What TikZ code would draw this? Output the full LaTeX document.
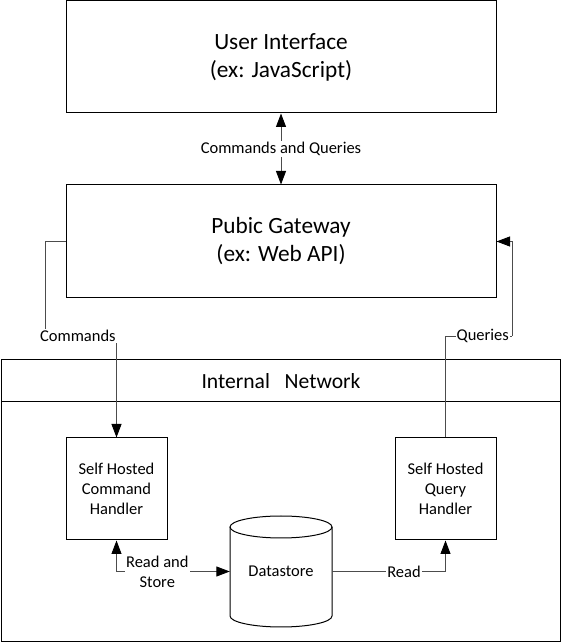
\documentclass[tikz,border=0pt]{standalone}
\usepackage{fontspec}
\setmainfont{Carlito}
\usetikzlibrary{arrows.meta}

\begin{document}
\begin{tikzpicture}[x=1pt,y=1pt,
    >={Triangle[length=13.5pt,width=10pt,color=black]},
    layerbox/.style={draw,line width=1pt,minimum width=430pt,minimum height=112pt,
        align=center,font=\fontsize{23.3}{28}\selectfont},
    handlerbox/.style={draw,line width=1pt,minimum width=101pt,minimum height=102pt,
        align=center,font=\fontsize{16.5}{20}\selectfont},
    link/.style={draw=black!70,line width=0.9pt},
    linklabel/.style={fill=white,inner sep=1pt,text=black,align=center,
        font=\fontsize{16.5}{20}\selectfont}]
    \useasboundingbox (0,0) rectangle (562,644);

    % 上层
    \node[layerbox] (ui) at (281,587) {User Interface\\(ex: JavaScript)};
    \node[layerbox,minimum height=113pt] (gw) at (281,402.5) {Pubic Gateway\\(ex: Web API)};

    % 内部网络
    \node[draw,line width=1pt,minimum width=559pt,minimum height=282pt] (net) at (280.5,143) {};
    \coordinate (headl) at (1,242);
    \coordinate (headr) at (560,242);
    \draw[line width=1pt] (headl) -- (headr);
    \node[font=\fontsize{21.6}{24}\selectfont] (nettitle) at (281,263) {Internal\ \ \ Network};

    % 处理器和数据库
    \node[handlerbox] (ch) at (116.5,155) {Self Hosted\\Command\\Handler};
    \node[handlerbox] (qh) at (445.5,155) {Self Hosted\\Query\\Handler};
    \node[minimum width=102pt,minimum height=111pt,font=\fontsize{16.5}{20}\selectfont] (ds) at (281,72.5) {Datastore};
    \draw[line width=1pt] (281,117) ellipse [x radius=51,y radius=11];
    \draw[line width=1pt] (230,117) -- (230,28) arc[start angle=180,end angle=360,x radius=51,y radius=11] -- (332,117);

    % 连线
    \coordinate (cmdbend) at (45,308);
    \coordinate (qrybend) at (512,308);
    \draw[link,<->] (ui.south) -- (gw.north) node[linklabel,midway] {Commands and Queries};
    \draw[link] (gw.west) -| (cmdbend);
    \draw[link,->] (cmdbend) -| (ch.north) node[linklabel,pos=0.23] {Commands};
    \draw[link] (qh.north) |- (qrybend) node[linklabel,pos=0.78] {Queries};
    \draw[link,->] (qrybend) |- (gw.east);
    \draw[link,<->] (ch.south) |- (ds.west) node[linklabel,pos=0.68] {Read and\\Store};
    \draw[link,->] (ds.east) -| (qh.south) node[linklabel,pos=0.317] {Read};
\end{tikzpicture}
\end{document}
